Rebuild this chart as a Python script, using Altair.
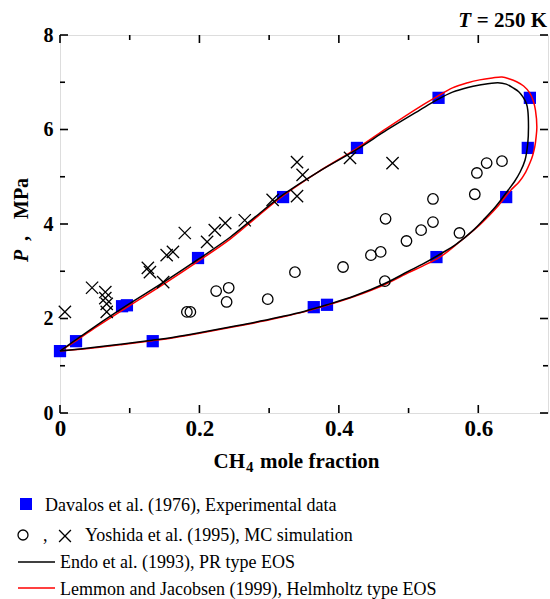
import altair as alt
import pandas as pd

# ---------------- data ----------------
sq_x = [0.000, 0.023, 0.089, 0.096, 0.133, 0.198, 0.320, 0.426, 0.543, 0.674, 0.671, 0.640, 0.540, 0.364, 0.383]
sq_p = [1.31, 1.52, 2.26, 2.28, 1.52, 3.28, 4.57, 5.61, 6.67, 6.67, 5.61, 4.57, 3.30, 2.24, 2.29]

circ_x = [0.182, 0.187, 0.224, 0.242, 0.239, 0.298, 0.337, 0.406, 0.446, 0.460, 0.466, 0.497,
          0.518, 0.535, 0.573, 0.467, 0.535, 0.595, 0.598, 0.612, 0.634]
circ_p = [2.14, 2.14, 2.58, 2.65, 2.35, 2.41, 2.98, 3.09, 3.34, 3.41, 2.79, 3.64,
          3.87, 4.04, 3.81, 4.11, 4.53, 4.63, 5.08, 5.29, 5.33]

cross_x = [0.007, 0.046, 0.065, 0.065, 0.067, 0.067, 0.126, 0.129, 0.148, 0.153, 0.162, 0.179,
           0.211, 0.222, 0.237, 0.265, 0.305, 0.340, 0.348, 0.340, 0.416, 0.477]
cross_p = [2.14, 2.65, 2.56, 2.43, 2.31, 2.14, 3.07, 2.98, 2.77, 3.34, 3.41, 3.81,
           3.62, 3.87, 4.02, 4.08, 4.51, 5.31, 5.04, 4.59, 5.40, 5.29]

pr_x = [0.000, 0.021, 0.050, 0.093, 0.151, 0.198, 0.244, 0.280, 0.320, 0.370, 0.426, 0.469,
        0.516, 0.540, 0.563, 0.585, 0.602, 0.628, 0.640, 0.650, 0.658, 0.664, 0.669, 0.671,
        0.672, 0.671, 0.667, 0.660, 0.652, 0.643, 0.633, 0.621, 0.607, 0.593, 0.569, 0.545,
        0.520, 0.500, 0.466, 0.423, 0.383, 0.350, 0.315, 0.280, 0.240, 0.200, 0.165, 0.132,
        0.090, 0.050, 0.000]
pr_p = [1.31, 1.53, 1.83, 2.25, 2.79, 3.25, 3.72, 4.15, 4.62, 5.10, 5.58, 5.99,
        6.41, 6.62, 6.79, 6.89, 6.94, 6.99, 6.96, 6.88, 6.80, 6.69, 6.55, 6.41,
        6.05, 5.71, 5.35, 5.10, 4.90, 4.72, 4.52, 4.30, 4.08, 3.87, 3.58, 3.36,
        3.15, 3.00, 2.74, 2.48, 2.29, 2.15, 2.03, 1.92, 1.81, 1.70, 1.61, 1.54,
        1.46, 1.39, 1.31]

lj_x = [0.000, 0.021, 0.050, 0.093, 0.151, 0.198, 0.244, 0.280, 0.320, 0.370, 0.426, 0.469,
        0.516, 0.540, 0.563, 0.585, 0.602, 0.620, 0.634, 0.645, 0.655, 0.665, 0.674, 0.679,
        0.682, 0.684, 0.683, 0.681, 0.678, 0.674, 0.668, 0.659, 0.647, 0.627, 0.615, 0.602,
        0.573, 0.545, 0.520, 0.500, 0.466, 0.423, 0.383, 0.350, 0.315, 0.280, 0.240, 0.200,
        0.165, 0.132, 0.090, 0.050, 0.000]
lj_p = [1.31, 1.51, 1.80, 2.21, 2.75, 3.21, 3.68, 4.12, 4.60, 5.10, 5.60, 6.03,
        6.48, 6.69, 6.88, 6.99, 7.05, 7.09, 7.11, 7.07, 7.01, 6.92, 6.77, 6.60,
        6.41, 6.05, 5.85, 5.63, 5.45, 5.29, 5.10, 4.90, 4.72, 4.36, 4.17, 3.98,
        3.62, 3.30, 3.11, 2.97, 2.72, 2.47, 2.28, 2.14, 2.02, 1.91, 1.80, 1.69,
        1.60, 1.53, 1.45, 1.38, 1.31]

x_major = [0.0, 0.2, 0.4, 0.6]
x_minor = [0.1, 0.3, 0.5]
y_major = [0, 2, 4, 6, 8]
y_minor = [1, 3, 5, 7]

FONT = "Liberation Serif"
W, H = 488, 378

xs = alt.Scale(domain=[0, 0.7], nice=False, zero=False)
ys = alt.Scale(domain=[0, 8], nice=False, zero=False)
xaxis = alt.Axis(values=x_major, title=None, grid=False, ticks=False, domain=False,
                 labelFont=FONT, labelFontSize=23, labelFontWeight="bold", labelColor="black",
                 labelPadding=4, labelFlush=False,
                 labelExpr="datum.value == 0 ? '0' : format(datum.value, '.1f')")
yaxis = alt.Axis(values=y_major, title=None, grid=False, ticks=False, domain=False,
                 labelFont=FONT, labelFontSize=20, labelFontWeight="bold", labelColor="black",
                 labelPadding=7, labelFlush=False, format="d")


def X(f):
    return alt.X(f, type="quantitative", scale=xs, axis=xaxis)


def Y(f):
    return alt.Y(f, type="quantitative", scale=ys, axis=yaxis)


sq_df = pd.DataFrame({"x": sq_x, "p": sq_p})
circ_df = pd.DataFrame({"x": circ_x, "p": circ_p})
cross_df = pd.DataFrame({"x": cross_x, "p": cross_p})
pr_df = pd.DataFrame({"x": pr_x, "p": pr_p, "i": range(len(pr_x))})
lj_df = pd.DataFrame({"x": lj_x, "p": lj_p, "i": range(len(lj_x))})

XSHAPE = "M-1,-1L1,1M-1,1L1,-1"

squares = alt.Chart(sq_df).mark_point(shape="square", filled=True, color="#0000ff",
                                      size=150, opacity=1).encode(x=X("x"), y=Y("p"))
red = alt.Chart(lj_df).mark_line(color="#ff0000", strokeWidth=1.5,
                                 interpolate="catmull-rom").encode(
    x=X("x"), y=Y("p"), order="i:Q")
black = alt.Chart(pr_df).mark_line(color="black", strokeWidth=1.5,
                                   interpolate="catmull-rom").encode(
    x=X("x"), y=Y("p"), order="i:Q")
circles = alt.Chart(circ_df).mark_point(shape="circle", filled=False, color="black",
                                        size=110, strokeWidth=1.3, opacity=1).encode(
    x=X("x"), y=Y("p"))
crosses = alt.Chart(cross_df).mark_point(shape=XSHAPE, filled=False, color="black",
                                         size=150, strokeWidth=1.3, opacity=1).encode(
    x=X("x"), y=Y("p"))


# inward ticks on all four sides
def xticks(vals, length):
    d = pd.DataFrame({"v": vals})
    b = alt.Chart(d).mark_rule(color="black", strokeWidth=1.6).encode(
        x=X("v"), y=alt.value(H), y2=alt.value(H - length))
    t = alt.Chart(d).mark_rule(color="black", strokeWidth=1.6).encode(
        x=X("v"), y=alt.value(0), y2=alt.value(length))
    return [b, t]


def yticks(vals, length):
    d = pd.DataFrame({"v": vals})
    l = alt.Chart(d).mark_rule(color="black", strokeWidth=1.6).encode(
        y=Y("v"), x=alt.value(0), x2=alt.value(length))
    r = alt.Chart(d).mark_rule(color="black", strokeWidth=1.6).encode(
        y=Y("v"), x=alt.value(W), x2=alt.value(W - length))
    return [l, r]


ticks = xticks(x_major, 8) + xticks(x_minor, 5) + yticks(y_major, 8) + yticks(y_minor, 5)

one = pd.DataFrame({"a": [0]})


def txt(s, x, y, size=18, weight="normal", style="normal", align="left", angle=0):
    kw = dict(text=s, font=FONT, fontSize=size, fontWeight=weight, fontStyle=style,
              align=align, baseline="alphabetic", color="black")
    if angle:
        kw["angle"] = angle
    return alt.Chart(one).mark_text(**kw).encode(x=alt.value(x), y=alt.value(y))


texts = [
    # y title
    txt("P", -32, 227, 20, "bold", "italic", "left", 270),
    txt(",", -32, 206, 20, "bold", "normal", "left", 270),
    txt("MPa", -32, 184, 20, "bold", "normal", "left", 270),
    # x title
    txt("CH", 185, 433, 21, "bold", "normal", "right"),
    txt("4", 186, 437, 15, "bold", "normal", "left"),
    txt("mole fraction", 200, 433, 21, "bold", "normal", "left"),
    # temperature
    txt("T", 411, -8, 21, "bold", "italic", "right"),
    txt("= 250 K", 487, -8, 21, "bold", "normal", "right"),
    # legend texts
    txt("Davalos et al. (1976), Experimental data", -15, 476, 18),
    txt(",", -17, 506, 18),
    txt("Yoshida et al. (1995), MC simulation", 25, 506, 18),
    txt("Endo et al. (1993), PR type EOS", 0, 533, 18),
    txt("Lemmon and Jacobsen (1999), Helmholtz type EOS", 0, 560, 18),
]

legend_marks = [
    alt.Chart(one).mark_point(shape="square", filled=True, color="#0000ff", size=144,
                              opacity=1).encode(x=alt.value(-34), y=alt.value(469)),
    alt.Chart(one).mark_point(shape="circle", filled=False, color="black", size=100,
                              strokeWidth=1.3, opacity=1).encode(x=alt.value(-37), y=alt.value(500)),
    alt.Chart(one).mark_point(shape=XSHAPE, filled=False, color="black", size=140,
                              strokeWidth=1.3, opacity=1).encode(x=alt.value(5), y=alt.value(501)),
    alt.Chart(one).mark_rule(color="black", strokeWidth=1.5).encode(
        x=alt.value(-42), x2=alt.value(-5), y=alt.value(527)),
    alt.Chart(one).mark_rule(color="#ff0000", strokeWidth=1.5).encode(
        x=alt.value(-42), x2=alt.value(-5), y=alt.value(553)),
]

chart = alt.layer(squares, red, black, circles, crosses, *ticks, *texts, *legend_marks).properties(
    width=W, height=H,
    autosize=alt.AutoSizeParams(type="none"),
    padding={"left": 60, "top": 35, "right": 2, "bottom": 186},
).configure_view(stroke="black", strokeWidth=2).configure(background="white")

chart.save("out.html", embed_options={"renderer": "svg", "actions": False})
